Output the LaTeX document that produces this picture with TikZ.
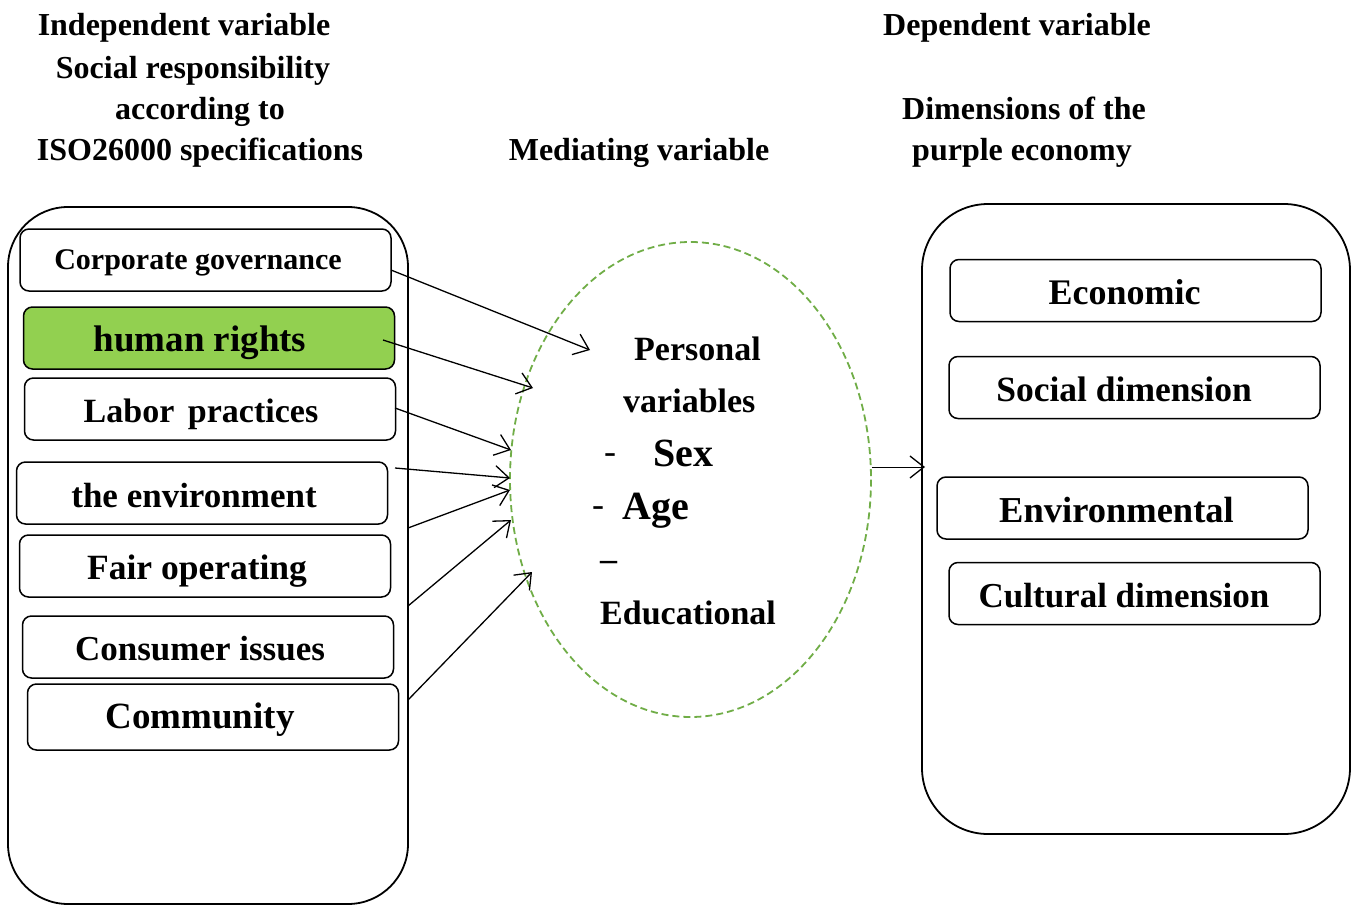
\documentclass[tikz,border=0pt]{standalone}
\usepackage{fontspec}
\setmainfont{Liberation Serif}
\usetikzlibrary{arrows.meta}
\definecolor{hrgreen}{HTML}{92D050}
\definecolor{dashgreen}{HTML}{70AD47}
\begin{document}
\begin{tikzpicture}[x=1pt,y=-1pt,
  heading/.style={font=\fontsize{32}{32}\selectfont\bfseries, inner sep=0pt, anchor=base},
  outerbox/.style={draw, line width=1.8pt, rounded corners=60pt},
  itembox/.style={draw, line width=1.5pt, rounded corners=9pt, minimum height=62pt, minimum width=371pt,
               inner sep=0pt},
  itemtext/.style={inner sep=0pt, anchor=base, font=\fontsize{35}{35}\selectfont\bfseries},
  medtext/.style={font=\fontsize{34}{34}\selectfont\bfseries, inner sep=0pt, anchor=base west},
  link/.style={line width=1.3pt, -{Straight Barb[length=14pt,width=22pt,line width=1.3pt]}}
]
\useasboundingbox (0,0) rectangle (1358,905);

% column headings
\node[heading] (h1) at (184,35) {Independent variable};
\node[heading] (h2) at (193,78) {Social responsibility};
\node[heading] (h3) at (200,119) {according to};
\node[heading] (h4) at (200,160) {ISO26000 specifications};
\node[heading] (h5) at (639,160) {Mediating variable};
\node[heading] (h6) at (1017,35) {Dependent variable};
\node[heading] (h7) at (1024,119) {Dimensions of the};
\node[heading] (h8) at (1022,160) {purple economy};

% left container
\draw[outerbox] (8,207) rectangle (408,904);

% left items: frames
\node[itembox] (cgbox) at (205.5,260) {};
\node[itembox, fill=hrgreen] (hrbox) at (209,338) {};
\node[itembox] (lpbox) at (210,409) {};
\node[itembox] (envbox) at (202,493) {};
\node[itembox] (fobox) at (205,566) {};
\node[itembox] (cibox) at (208,647) {};
\node[itembox, minimum height=66pt] (combox) at (213,717) {};

% left items: labels
\node[itemtext, font=\fontsize{30}{30}\selectfont\bfseries] (cg) at (198,269) {Corporate governance};
\node[itemtext, font=\fontsize{37}{37}\selectfont\bfseries] (hr) at (200,351) {human rights};
\node[itemtext, font=\fontsize{34}{34}\selectfont\bfseries] (lp) at (201,422) {Labor\hspace{0.15em} practices};
\node[itemtext] (env) at (194,507) {the environment};
\node[itemtext, font=\fontsize{35.5}{35.5}\selectfont\bfseries] (fo) at (197,579) {Fair operating};
\node[itemtext] (ci) at (200,660) {Consumer issues};
\node[itemtext, font=\fontsize{37}{37}\selectfont\bfseries] (com) at (200,728) {Community};

% mediating ellipse
\draw[dashgreen, line width=1.8pt, dash pattern=on 7pt off 4pt] (690.5,479.5) ellipse [x radius=180.5, y radius=237.5];
\node[medtext] (m1) at (634,360) {Personal};
\node[medtext] (m2) at (623,412) {variables};
\node[medtext, font=\fontsize{36}{36}\selectfont] (d1) at (604,463) {-};
\node[medtext, font=\fontsize{40}{40}\selectfont\bfseries] (m3) at (653,466) {Sex};
\node[medtext, font=\fontsize{36}{36}\selectfont] (d2) at (592,516) {-};
\node[medtext, font=\fontsize{40}{40}\selectfont\bfseries] (m4) at (622,519) {Age};
\node[medtext] (d3) at (600,570) {–};
\node[medtext] (m5) at (600,624) {Educational};

% right container
\draw[outerbox, rounded corners=66pt] (922,204) rectangle (1350,834);

% right items: frames
\node[itembox] (ecobox) at (1135.5,290.5) {};
\node[itembox] (socbox) at (1134.5,387.5) {};
\node[itembox] (envrbox) at (1122.5,508) {};
\node[itembox] (culbox) at (1134.5,593.5) {};

% right items: labels
\node[itemtext, font=\fontsize{36}{36}\selectfont\bfseries] (eco) at (1124.5,304) {Economic};
\node[itemtext, font=\fontsize{35.5}{35.5}\selectfont\bfseries] (soc) at (1124,401) {Social dimension};
\node[itemtext, font=\fontsize{36.5}{36.5}\selectfont\bfseries] (envr) at (1116.5,522) {Environmental};
\node[itemtext] (cul) at (1124,607) {Cultural dimension};

% connector end points
\coordinate (s1) at (391,270);  \coordinate (t1) at (590,350);
\coordinate (s2) at (383,340);  \coordinate (t2) at (533,388);
\coordinate (s3) at (395,408);  \coordinate (t3) at (511,450);
\coordinate (s4) at (395,468);  \coordinate (t4) at (510,478);
\coordinate (s5) at (408,528);  \coordinate (t5) at (510,490);
\coordinate (s6) at (408,606);  \coordinate (t6) at (511,520);
\coordinate (s7) at (408,700);  \coordinate (t7) at (532,572);
\coordinate (s8) at (872,467);  \coordinate (t8) at (925,467);

\draw[link] (s1) -- (t1);
\draw[link] (s2) -- (t2);
\draw[link] (s3) -- (t3);
\draw[link] (s4) -- (t4);
\draw[link] (s5) -- (t5);
\draw[link] (s6) -- (t6);
\draw[link] (s7) -- (t7);
\draw[link, line width=1pt] (s8) -- (t8);
\end{tikzpicture}
\end{document}
